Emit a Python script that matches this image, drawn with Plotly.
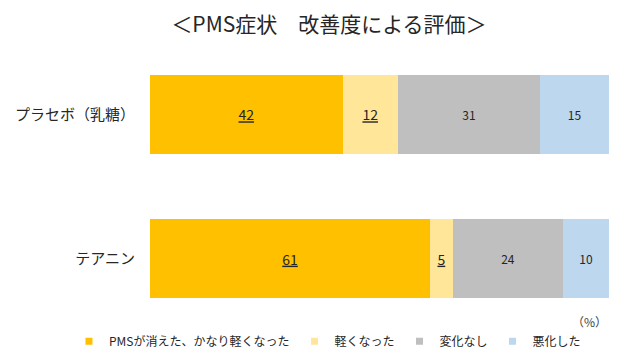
import plotly.graph_objects as go

categories = ["プラセボ（乳糖）", "テアニン"]
series_names = ["PMSが消えた、かなり軽くなった", "軽くなった", "変化なし", "悪化した"]
values = {
    "PMSが消えた、かなり軽くなった": [42, 61],
    "軽くなった": [12, 5],
    "変化なし": [31, 24],
    "悪化した": [15, 10],
}
colors = ["#FFC000", "#FFE699", "#BFBFBF", "#BDD7EE"]
underlined = [True, True, False, False]

FONT = "Noto Sans CJK JP"

fig = go.Figure()
for name, col, ul in zip(series_names, colors, underlined):
    fig.add_trace(go.Bar(
        y=categories, x=values[name], name=name, orientation="h",
        marker=dict(color=col, line=dict(width=0)),
        width=0.55,
        texttemplate="<u>%{x}</u>" if ul else "%{x}",
        textposition="inside", insidetextanchor="middle",
        textfont=dict(family=FONT, size=14 if ul else 12, color="#262626"),
        hoverinfo="skip", showlegend=False,
    ))
# legend entries with small square keys, as in the reference
for name, col in zip(series_names, colors):
    fig.add_trace(go.Scatter(
        x=[None], y=[None], mode="markers", name=name,
        marker=dict(symbol="square", size=7, color=col),
        hoverinfo="skip", showlegend=True,
    ))

# the page body has an 8px margin, so the figure is sized to fit the 620x364 window
fig.update_layout(
    barmode="stack",
    width=612, height=356,
    paper_bgcolor="white", plot_bgcolor="white",
    margin=dict(l=142, r=11, t=62.5, b=61.5, autoexpand=False),
    font=dict(family=FONT, color="#262626"),
    title=dict(text="＜PMS症状　改善度による評価＞", x=0.5245, xanchor="center",
               y=0.9537, yanchor="middle", font=dict(size=21, family=FONT, color="#262626")),
    xaxis=dict(range=[0, 100], visible=False, fixedrange=True),
    yaxis=dict(type="category", categoryarray=categories, categoryorder="array",
               range=[1.3, -0.3], showgrid=False, showline=False,
               ticks="", ticklabelstandoff=14, tickfont=dict(size=15, family=FONT, color="#262626")),
    showlegend=True,
    legend=dict(orientation="h", xref="paper", x=-0.1765, xanchor="left",
                y=-0.17, yanchor="middle", traceorder="normal",
                font=dict(size=12, family=FONT, color="#262626"),
                itemwidth=30),
    annotations=[dict(text="（%）", xref="paper", yref="paper", x=1.0, y=-0.084,
                      xanchor="right", yanchor="middle", showarrow=False,
                      font=dict(size=12, family=FONT, color="#404040"))],
)

fig.write_html("out.html")
